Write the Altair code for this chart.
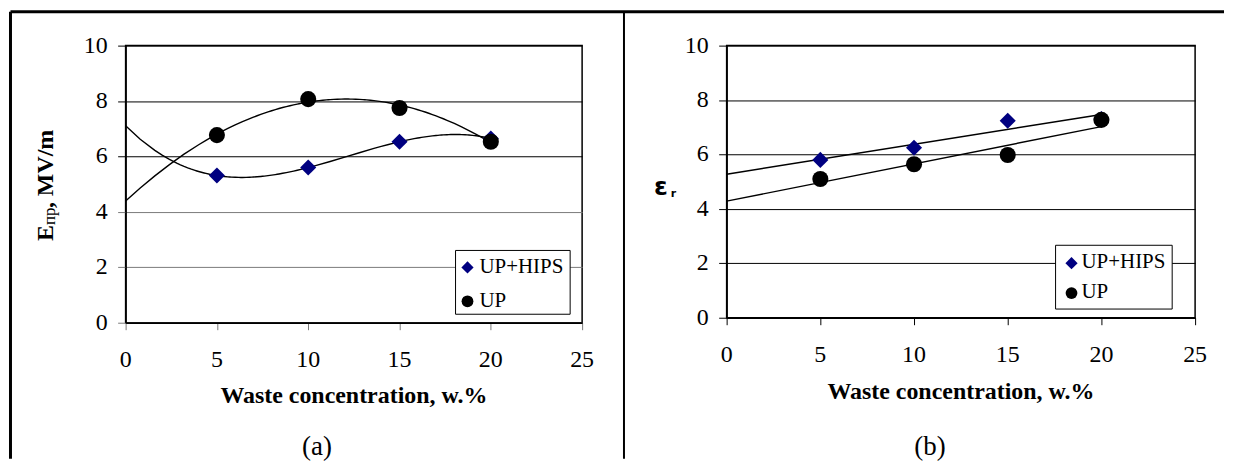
import altair as alt
import pandas as pd

# ---------------- data ----------------
x_vals = [5, 10, 15, 20]
series_names = ["UP+HIPS", "UP"]
a_hips = [5.31, 5.6, 6.53, 6.65]
a_up = [6.77, 8.07, 7.75, 6.53]
b_hips = [5.8, 6.25, 7.24, 7.3]
b_up = [5.1, 5.64, 5.98, 7.27]
x_ticks = [0, 5, 10, 15, 20, 25]
y_ticks = [0, 2, 4, 6, 8, 10]
x_title = "Waste concentration, w.%"
series_colors = ["#000080", "black"]
series_shapes = ["diamond", "circle"]

SERIF = "Liberation Serif"
SANS = "DejaVu Sans"
TICK_FS = 24
LEG_FS = 21


def table(h, u):
    return pd.DataFrame({
        "x": x_vals * 2,
        "y": h + u,
        "series": [series_names[0]] * len(x_vals) + [series_names[1]] * len(x_vals),
    })


def one():
    return alt.Data(values=[{}])


def txt(s, x, y, size, font=SERIF, weight="normal", align="center", angle=0):
    kw = dict(text=s, font=font, fontSize=size, fontWeight=weight, align=align,
              baseline="alphabetic", color="black")
    if angle:
        kw["angle"] = angle
    return alt.Chart(one()).mark_text(**kw).encode(x=alt.value(x), y=alt.value(y))


def hrule(x1, x2, y, w):
    return alt.Chart(one()).mark_rule(color="black", strokeWidth=w).encode(
        x=alt.value(x1), x2=alt.value(x2), y=alt.value(y))


def vrule(x, y1, y2, w):
    return alt.Chart(one()).mark_rule(color="black", strokeWidth=w).encode(
        x=alt.value(x), y=alt.value(y1), y2=alt.value(y2))


def legend_box(x0, y0, x1, y1, sym_x, sym_y, text_x, text_y):
    out = [alt.Chart(one()).mark_rect(fill="white", stroke="black", strokeWidth=1).encode(
        x=alt.value(x0), x2=alt.value(x1), y=alt.value(y0), y2=alt.value(y1))]
    for i, name in enumerate(series_names):
        out.append(alt.Chart(one()).mark_point(
            shape=series_shapes[i], filled=True, opacity=1, color=series_colors[i],
            size=150 if i == 0 else 140).encode(x=alt.value(sym_x), y=alt.value(sym_y[i])))
        out.append(txt(name, text_x, text_y[i], LEG_FS, align="left"))
    return out


def panel(df, w, h, fits, extra, grey_low=False):
    grid_col = alt.condition("datum.value <= 4", alt.value("#7a7a7a"), alt.value("black")) if grey_low else "black"
    X = alt.X("x:Q", scale=alt.Scale(domain=[0, 25], nice=False),
              axis=alt.Axis(values=x_ticks, grid=False, title=None, tickSize=7,
                            labels=False, tickColor="#7a7a7a" if grey_low else "black"))
    Y = alt.Y("y:Q", scale=alt.Scale(domain=[0, 10], nice=False),
              axis=alt.Axis(values=y_ticks, grid=True, title=None, tickSize=8,
                            labels=False, gridColor=grid_col, tickColor=grid_col))
    base = alt.Chart(df)
    layers = []
    for name, method, order in fits:
        kw = dict(method=method, extent=[0, 20])
        if method == "poly":
            kw["order"] = order
        layers.append(
            base.transform_filter(alt.datum.series == name)
            .transform_regression("x", "y", **kw)
            .mark_line(color="black", strokeWidth=1.4)
            .encode(x=X, y=Y)
        )
    pts = base.mark_point(filled=True, opacity=1, size=260).encode(
        x=X, y=Y,
        color=alt.Color("series:N", legend=None,
                        scale=alt.Scale(domain=series_names, range=series_colors)),
        shape=alt.Shape("series:N", legend=None,
                        scale=alt.Scale(domain=series_names, range=series_shapes)),
    )
    layers.append(pts)
    # tick labels
    layers.append(
        alt.Chart(pd.DataFrame({"x": x_ticks}))
        .mark_text(font=SERIF, fontSize=TICK_FS, align="center", baseline="alphabetic", color="black")
        .encode(x=X, y=alt.value(h + 44), text=alt.Text("x:Q", format="d"))
    )
    layers.append(
        alt.Chart(pd.DataFrame({"y": y_ticks}))
        .mark_text(font=SERIF, fontSize=TICK_FS, align="right", baseline="middle", color="black")
        .encode(x=alt.value(-18), y=Y, text=alt.Text("y:Q", format="d"))
    )
    layers.extend(extra)
    return alt.layer(*layers).properties(width=w, height=h)


# left panel: plot origin at page (125, 43.5)
left_extra = legend_box(331, 205.5, 446, 269.5, 343, [222.5, 256.5], 355, [228.5, 262.5]) + [
    txt(x_title, 229, 358.5, 24, weight="bold"),
    txt("(a)", 192, 411, 27),
    txt("E", -72.5, 196, 24, weight="bold", align="left", angle=270),
    txt("пр", -70.5, 180, 17, align="left", angle=270),
    txt(", MV/m", -72.5, 163, 24, weight="bold", align="left", angle=270),
    # frame of the figure
    hrule(-115.5, 1102, -34, 3),
    vrule(-115.5, -34, 414.5, 3),
    vrule(500, -34, 414.5, 2),
]
left = panel(table(a_hips, a_up), 458, 278,
             [("UP+HIPS", "poly", 3), ("UP", "poly", 2)], left_extra, grey_low=True)

# right panel: plot origin at page (728, 43.7)
right_extra = legend_box(330, 200.3, 447, 264.3, 346, [218.3, 248.3], 356, [223, 253]) + [
    txt(x_title, 235, 354.5, 24, weight="bold"),
    txt("(b)", 204, 411, 27),
    txt("ε", -73, 149.5, 25, font=SANS, weight="bold", align="left"),
    txt("r", -56, 152, 11, font=SANS, weight="bold", align="left"),
]
right = panel(table(b_hips, b_up), 470, 273,
              [("UP+HIPS", "linear", 1), ("UP", "linear", 1)], right_extra)

chart = (
    alt.hconcat(left, right, spacing=145, bounds="flush")
    .properties(padding=0)
    .configure_view(stroke="black", strokeWidth=1.5)
    .configure_axis(domainColor="black", domainWidth=1.5, tickWidth=1,
                    gridWidth=1, gridOpacity=1)
)

chart.save("out.html", embed_options={"renderer": "svg", "actions": False})
